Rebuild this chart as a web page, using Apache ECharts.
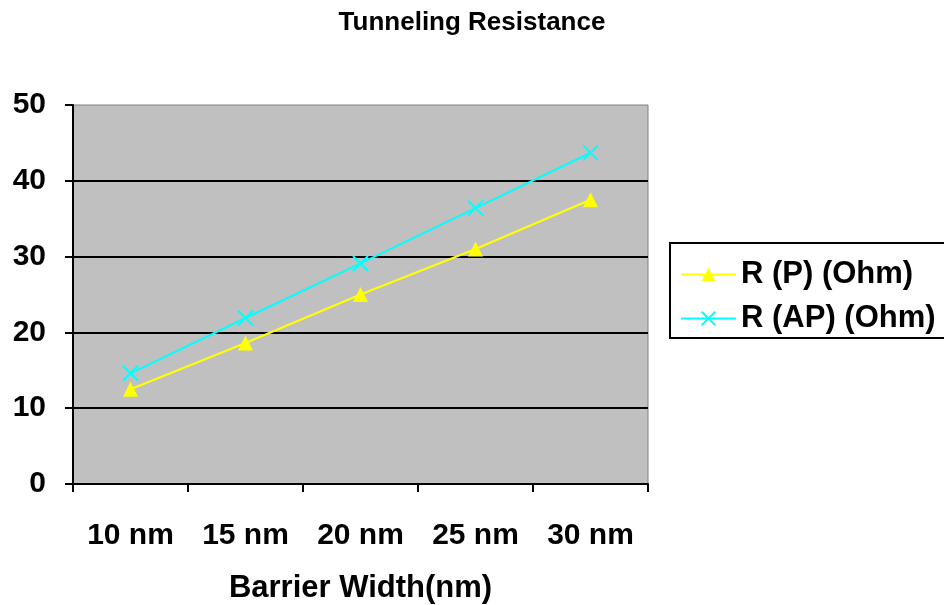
<!DOCTYPE html>
<html>
<head>
<meta charset="utf-8">
<script src="https://cdn.jsdelivr.net/npm/echarts@6/dist/echarts.min.js"></script>
<style>
  html, body { margin: 0; padding: 0; background: #fff; }
  #main { width: 944px; height: 605px; }
</style>
</head>
<body>
<div id="main"></div>
<script>
var categories = ['10 nm', '15 nm', '20 nm', '25 nm', '30 nm'];
var rP = [12.5, 18.6, 25.0, 31.0, 37.5];
var rAP = [14.6, 21.9, 29.1, 36.4, 43.7];
var yTicks = [0, 10, 20, 30, 40, 50];

var chart = echarts.init(document.getElementById('main'));
var font = 'Liberation Sans, Arial, sans-serif';
var crossPath = 'path://M0,0L10,10M10,0L0,10';

var option = {
    backgroundColor: '#fff',
    title: {
        text: 'Tunneling Resistance',
        left: 'center',
        top: 5,
        textStyle: { fontFamily: font, fontSize: 26, fontWeight: 'bold', color: '#000' }
    },
    legend: {
        orient: 'vertical',
        left: 670,
        top: 243,
        padding: [16, 10, 4, 10],
        itemGap: 13,
        itemWidth: 55,
        itemHeight: 17,
        borderColor: '#000',
        borderWidth: 2,
        textStyle: { fontFamily: font, fontSize: 31, fontWeight: 'bold', color: '#000', lineHeight: 31 },
        data: ['R (P) (Ohm)', 'R (AP) (Ohm)']
    },
    grid: {
        left: 73,
        top: 105,
        width: 575,
        height: 379,
        outerBoundsMode: 'none',
        containLabel: false,
        show: true,
        backgroundColor: '#C0C0C0',
        borderColor: '#808080',
        borderWidth: 1
    },
    xAxis: {
        type: 'category',
        data: categories,
        boundaryGap: true,
        name: 'Barrier Width(nm)',
        nameLocation: 'middle',
        nameGap: 89,
        nameTextStyle: { fontFamily: font, fontSize: 31, fontWeight: 'bold', color: '#000' },
        axisLine: { lineStyle: { color: '#000', width: 2 } },
        axisTick: { show: true, interval: 0, length: 8, lineStyle: { color: '#000', width: 2 } },
        axisLabel: { interval: 0, hideOverlap: false, fontFamily: font, fontSize: 30, fontWeight: 'bold', color: '#000', margin: 37 }
    },
    yAxis: {
        type: 'value',
        min: yTicks[0],
        max: yTicks[yTicks.length - 1],
        interval: 10,
        axisLine: { show: true, lineStyle: { color: '#000', width: 2 } },
        axisTick: { show: true, length: 8, lineStyle: { color: '#000', width: 2 } },
        axisLabel: { fontFamily: font, fontSize: 30, fontWeight: 'bold', color: '#000', margin: 27, padding: [4, 0, 0, 0] },
        splitLine: { show: true, showMaxLine: false, lineStyle: { color: '#000', width: 2 } }
    },
    series: [
        {
            name: 'R (P) (Ohm)',
            type: 'line',
            data: rP,
            symbol: 'triangle',
            symbolSize: 15,
            lineStyle: { color: '#FFFF00', width: 2 },
            itemStyle: { color: '#FFFF00' }
        },
        {
            name: 'R (AP) (Ohm)',
            type: 'line',
            data: rAP,
            symbol: crossPath,
            symbolSize: 15,
            lineStyle: { color: '#00FFFF', width: 2 },
            itemStyle: { color: '#00FFFF', borderColor: '#00FFFF', borderWidth: 2 }
        }
    ]
};

chart.setOption(option);
</script>
</body>
</html>
